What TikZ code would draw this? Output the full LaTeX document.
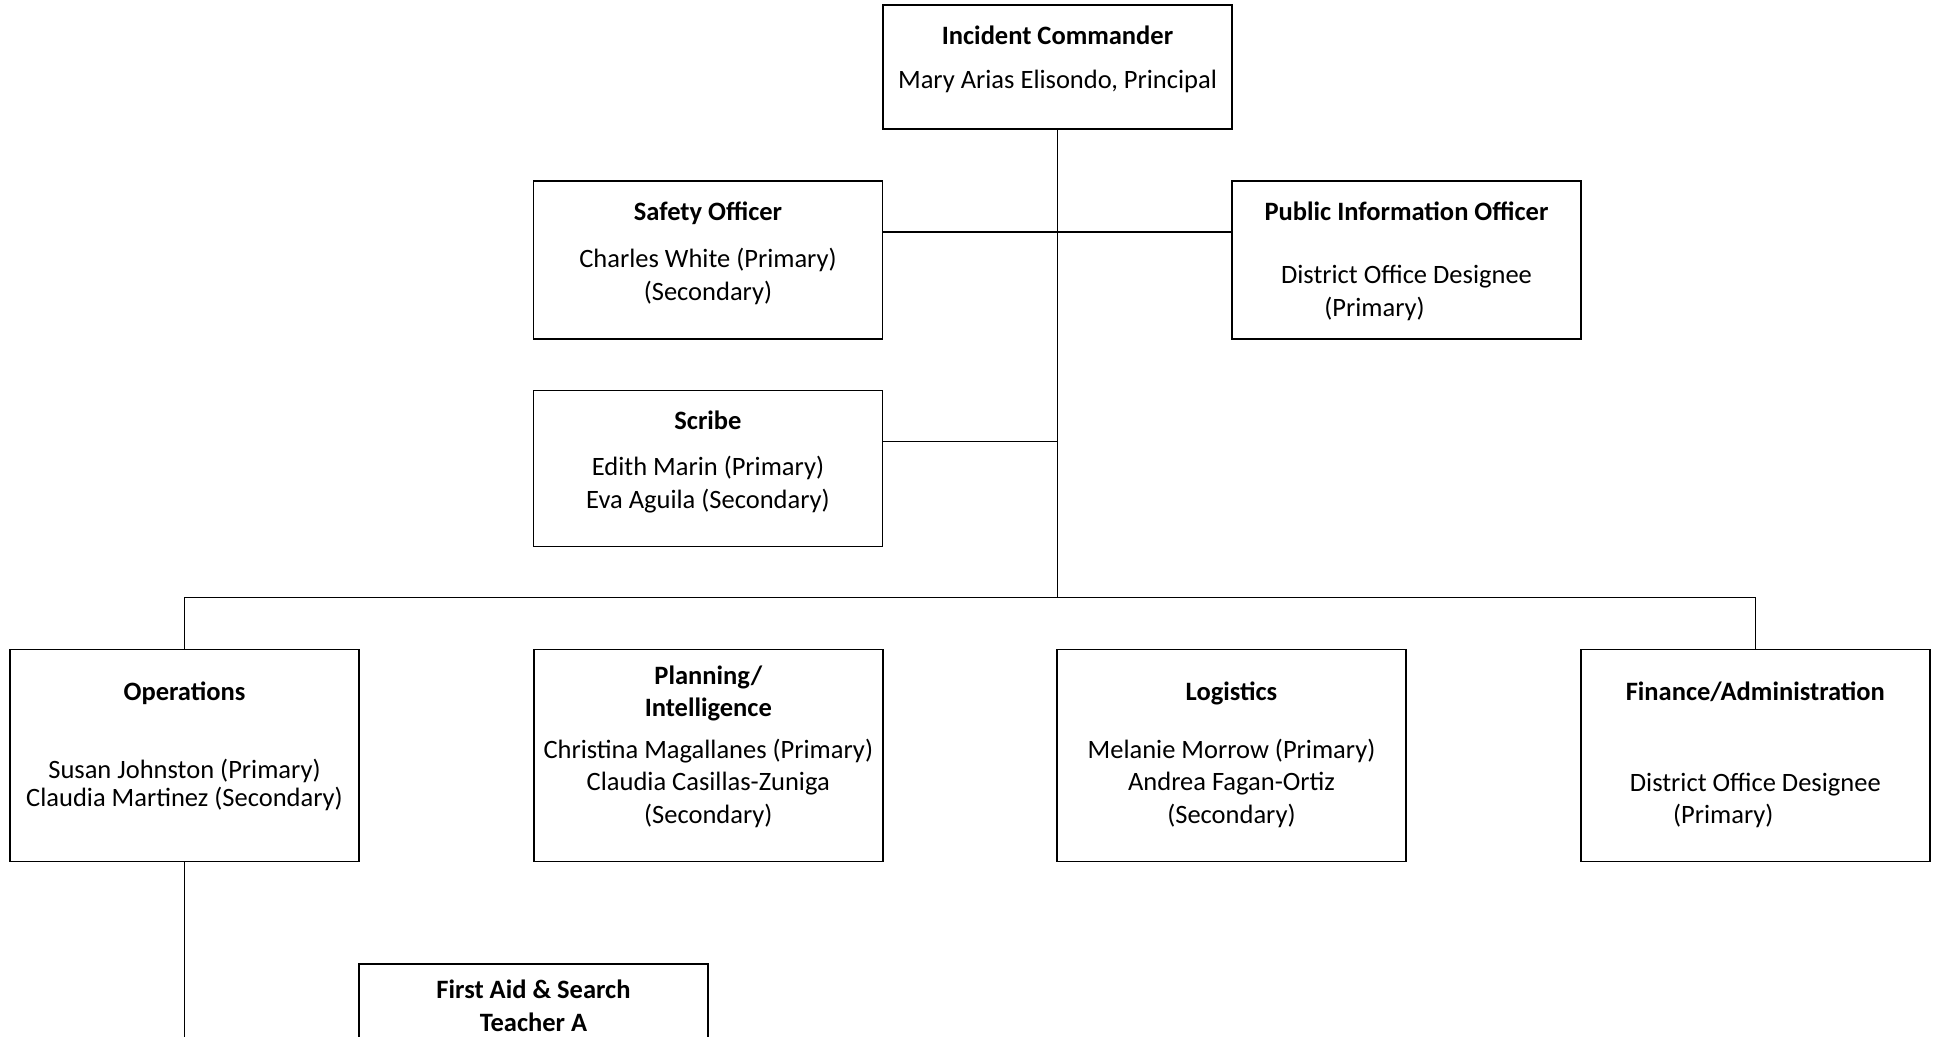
\documentclass[tikz,border=0pt]{standalone}
\usepackage{fontspec}
\setmainfont{Carlito}
\usetikzlibrary{positioning}

% one pixel of the chart
\newlength\ppx
\setlength\ppx{0.415pt}

% text nodes sit on the baseline of their last line
\tikzset{
  box/.style={draw, line width=0.6pt, minimum width=349*\ppx, minimum height=#1*\ppx, inner sep=0pt},
  head/.style={anchor=base, align=center, inner sep=0pt, font=\fontsize{11}{13.2}\selectfont\bfseries},
  who/.style={anchor=base, align=center, inner sep=0pt, font=\fontsize{11}{13.6}\selectfont},
  link/.style={line width=0.6pt},
}

\begin{document}
\begin{tikzpicture}[x=\ppx, y=-\ppx]
\useasboundingbox (0,0) rectangle (1939,1036);
\clip (0,0) rectangle (1939,1036);

%%% command staff
\node[box=124] (ic) at (1057.5,67.2) {};
\node[head] (icT) at ([yshift=-40.5\ppx]ic.north) {Incident Commander};
\node[who] (icN) at ([yshift=-84.5\ppx]ic.north) {Mary Arias Elisondo, Principal};

\node[box=158] (safety) at (708,259.8) {};
\node[head] (safetyT) at ([yshift=-40.5\ppx]safety.north) {Safety Officer};
\node[who] (safetyN) at ([yshift=-120\ppx]safety.north) {Charles White (Primary)\\(Secondary)};

\node[box=158] (pio) at (1406.5,259.8) {};
\node[head] (pioT) at ([yshift=-40.5\ppx]pio.north) {Public Information Officer};
\node[who] (pioN) at ([yshift=-136\ppx]pio.north) {District Office Designee\\(Primary)\hspace*{64\ppx}};

\node[box=156] (scribe) at (708,468.3) {};
\node[head] (scribeT) at ([yshift=-39.5\ppx]scribe.north) {Scribe};
\node[who] (scribeN) at ([yshift=-119\ppx]scribe.north) {Edith Marin (Primary)\\Eva Aguila (Secondary)};

%%% general staff
\node[box=212] (ops) at (184.5,755.5) {};
\node[head] (opsT) at ([yshift=-52\ppx]ops.north) {Operations};
\node[who, font=\fontsize{11}{11.8}\selectfont] (opsN) at ([yshift=-158\ppx]ops.north) {Susan Johnston (Primary)\\Claudia Martinez (Secondary)};

\node[box=212] (plan) at (708.3,755.5) {};
\node[head] (planT) at ([yshift=-67.6\ppx]plan.north) {Planning/\\Intelligence};
\node[who] (planN) at ([yshift=-174.9\ppx]plan.north) {Christina Magallanes (Primary)\\Claudia Casillas-Zuniga\\(Secondary)};

\node[box=212] (logi) at (1231.5,755.5) {};
\node[head] (logiT) at ([yshift=-52\ppx]logi.north) {Logistics};
\node[who] (logiN) at ([yshift=-174.9\ppx]logi.north) {Melanie Morrow (Primary)\\Andrea Fagan-Ortiz\\(Secondary)};

\node[box=212] (fin) at (1755.3,755.5) {};
\node[head] (finT) at ([yshift=-52\ppx]fin.north) {Finance/Administration};
\node[who] (finN) at ([yshift=-175\ppx]fin.north) {District Office Designee\\(Primary)\hspace*{64\ppx}};

%%% operations branch
\node[box=212, anchor=north] (aid) at (533.5,963.3) {};
\node[head, font=\fontsize{11}{13.5}\selectfont\bfseries] (aidT) at ([yshift=-68\ppx]aid.north) {First Aid \& Search\\Teacher A};

%%% lines
\coordinate (j1) at (1057.5,232);
\coordinate (j2) at (1057.5,441.7);
\coordinate (bus) at (1057.5,597.7);
\coordinate (opsEnd) at (184.5,1040);

\draw[link] (ic.south) -- (bus);
\draw[link] (safety.east |- j1) -- (pio.west |- j1);
\draw[link] (scribe.east |- j2) -- (j2);
\draw[link] (ops.north) -- (ops.north |- bus) -| (fin.north);
\draw[link] (ops.south) -- (opsEnd);
\end{tikzpicture}
\end{document}
